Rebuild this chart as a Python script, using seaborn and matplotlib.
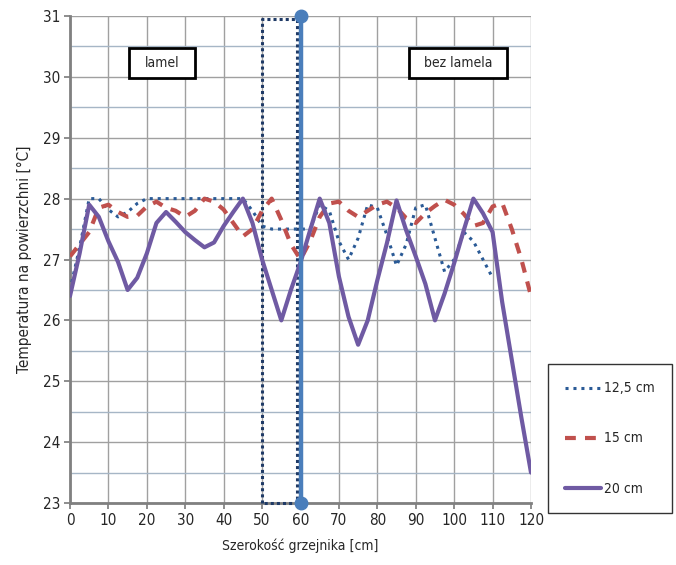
import matplotlib
matplotlib.use("Agg")
import matplotlib.pyplot as plt
import seaborn as sns
from matplotlib.patches import Rectangle
from matplotlib import font_manager

# dane (co 2,5 cm)
x_125 = [0, 2.5, 5, 7.5, 10, 12.5, 15, 17.5, 20, 22.5, 25, 27.5, 30, 32.5, 35, 37.5,
         40, 42.5, 45, 47.5, 50, 52.5, 55, 57.5, 60, 62.5, 65, 67.5, 70, 72.5, 75,
         77.5, 80, 82.5, 85, 87.5, 90, 92.5, 95, 97.5, 100, 102.5, 105, 107.5, 110]
t_125 = [26.5, 27.2, 28.0, 28.0, 27.82, 27.7, 27.78, 27.92, 28.0, 28.0, 28.0, 28.0,
         28.0, 28.0, 28.0, 28.0, 28.0, 28.0, 28.0, 27.8, 27.55, 27.5, 27.5, 27.5,
         27.5, 27.5, 27.9, 27.8, 27.3, 27.0, 27.35, 27.9, 27.85, 27.4, 26.9, 27.25,
         27.85, 27.9, 27.35, 26.8, 27.0, 27.45, 27.3, 27.0, 26.7]

x_15 = [0, 2.5, 5, 7.5, 10, 12.5, 15, 17.5, 20, 22.5, 25, 27.5, 30, 32.5, 35, 37.5,
        40, 42.5, 45, 47.5, 50, 52.5, 55, 57.5, 60, 62.5, 65, 67.5, 70, 72.5, 75,
        77.5, 80, 82.5, 85, 87.5, 90, 92.5, 95, 97.5, 100, 102.5, 105, 107.5, 110,
        112.5, 115, 117.5, 120]
t_15 = [27.05, 27.25, 27.45, 27.85, 27.9, 27.78, 27.7, 27.72, 27.87, 27.95, 27.85,
        27.8, 27.7, 27.8, 28.0, 27.95, 27.82, 27.6, 27.38, 27.5, 27.8, 28.0, 27.65,
        27.25, 27.0, 27.3, 27.7, 27.92, 27.95, 27.8, 27.7, 27.8, 27.9, 27.95, 27.85,
        27.68, 27.6, 27.76, 27.88, 27.98, 27.9, 27.75, 27.55, 27.6, 27.87, 27.93,
        27.5, 27.0, 26.4]

x_20 = x_15
t_20 = [26.4, 27.1, 27.9, 27.7, 27.3, 26.96, 26.5, 26.7, 27.1, 27.6, 27.78, 27.62,
        27.45, 27.32, 27.2, 27.28, 27.55, 27.78, 28.0, 27.6, 27.0, 26.5, 26.0, 26.5,
        26.95, 27.48, 28.0, 27.6, 26.72, 26.06, 25.6, 26.0, 26.66, 27.27, 27.97,
        27.48, 27.05, 26.6, 26.0, 26.44, 26.94, 27.48, 28.0, 27.76, 27.45, 26.3,
        25.35, 24.4, 23.5]

series_labels = ["12,5 cm", "15 cm", "20 cm"]

# prostokat lameli i linia podzialu
rect_x = [50, 59]
rect_y = [23, 30.95]
div_x = [60, 60]
div_y = [23, 31]

# podpisy w ramkach
box_texts = ["lamel", "bez lamela"]
box_x0 = [15.4, 88.2]
box_x1 = [32.5, 113.7]
box_y0 = 29.98
box_y1 = 30.47

sns.set_theme(style="whitegrid")

# waska czcionka jesli jest dostepna
names = {f.name for f in font_manager.fontManager.ttflist}
narrow = [n for n in ["Liberation Sans Narrow", "DejaVu Sans Condensed"] if n in names]
plt.rcParams["font.family"] = narrow + ["DejaVu Sans"]
plt.rcParams["font.stretch"] = "condensed"
FS = 11 if narrow else 10

fig = plt.figure(figsize=(6.76, 5.65), dpi=100)
ax = fig.add_axes([70 / 676, 1 - 503 / 565, 461 / 676, 487 / 565])
ax.set_facecolor("white")

sns.lineplot(x=x_125, y=t_125, ax=ax, color="#2a5a96", linewidth=2.2,
             linestyle=(0, (1, 1.6)), label=series_labels[0], zorder=4)
sns.lineplot(x=x_15, y=t_15, ax=ax, color="#c0504d", linewidth=3,
             linestyle=(0, (2.6, 2.2)), label=series_labels[1], zorder=4)
sns.lineplot(x=x_20, y=t_20, ax=ax, color="#6f5aa3", linewidth=3,
             label=series_labels[2], zorder=5)

# prostokat kropkowany
ax.plot([rect_x[0], rect_x[0], rect_x[1], rect_x[1], rect_x[0]],
        [rect_y[0], rect_y[1], rect_y[1], rect_y[0], rect_y[0]],
        color="#1f3a66", linewidth=2.2, linestyle=(0, (1, 1)), zorder=3,
        clip_on=False)
ax.plot(div_x, div_y, color="#4a7ebb", linewidth=3.2, marker="o",
        markersize=9, zorder=6, clip_on=False)

for txt, a, b in zip(box_texts, box_x0, box_x1):
    ax.add_patch(Rectangle((a, box_y0), b - a, box_y1 - box_y0, facecolor="white",
                           edgecolor="black", linewidth=2, zorder=7))
    ax.text((a + b) / 2, (box_y0 + box_y1) / 2, txt, ha="center", va="center",
            fontsize=FS, zorder=8)

ax.set_xlim(0, 120)
ax.set_ylim(23, 31)
ax.set_xticks(range(0, 121, 10))
ax.set_yticks(range(23, 32))
ax.set_yticks([v + 0.5 for v in range(23, 31)], minor=True)
ax.grid(True, which="major", color="#a0a0a0", linewidth=1)
ax.grid(True, which="minor", axis="y", color="#a6b6c6", linewidth=1)
ax.tick_params(axis="both", which="major", labelsize=FS + 1, length=4, color="#808080",
               direction="out", left=True, bottom=True, pad=3)
ax.tick_params(which="minor", left=False)

for side in ["top", "right"]:
    ax.spines[side].set_visible(False)
for side in ["left", "bottom"]:
    ax.spines[side].set_color("#808080")
    ax.spines[side].set_linewidth(2)

ax.set_xlabel("Szerokość grzejnika [cm]", fontsize=FS, labelpad=8)
ax.set_ylabel("Temperatura na powierzchni [°C]", fontsize=FS + 1, labelpad=8)

handles, labels = ax.get_legend_handles_labels()
ax.legend_.remove()
leg = fig.legend(handles, labels, loc="upper left",
                 bbox_to_anchor=(548 / 676, 1 - 364 / 565), fontsize=FS,
                 frameon=True, fancybox=False, edgecolor="black",
                 borderpad=1.25, labelspacing=2.6, handlelength=2.6,
                 handletextpad=0.2, borderaxespad=0)
leg.get_frame().set_linewidth(1)

fig.savefig("out.png", dpi=100, facecolor="white")
